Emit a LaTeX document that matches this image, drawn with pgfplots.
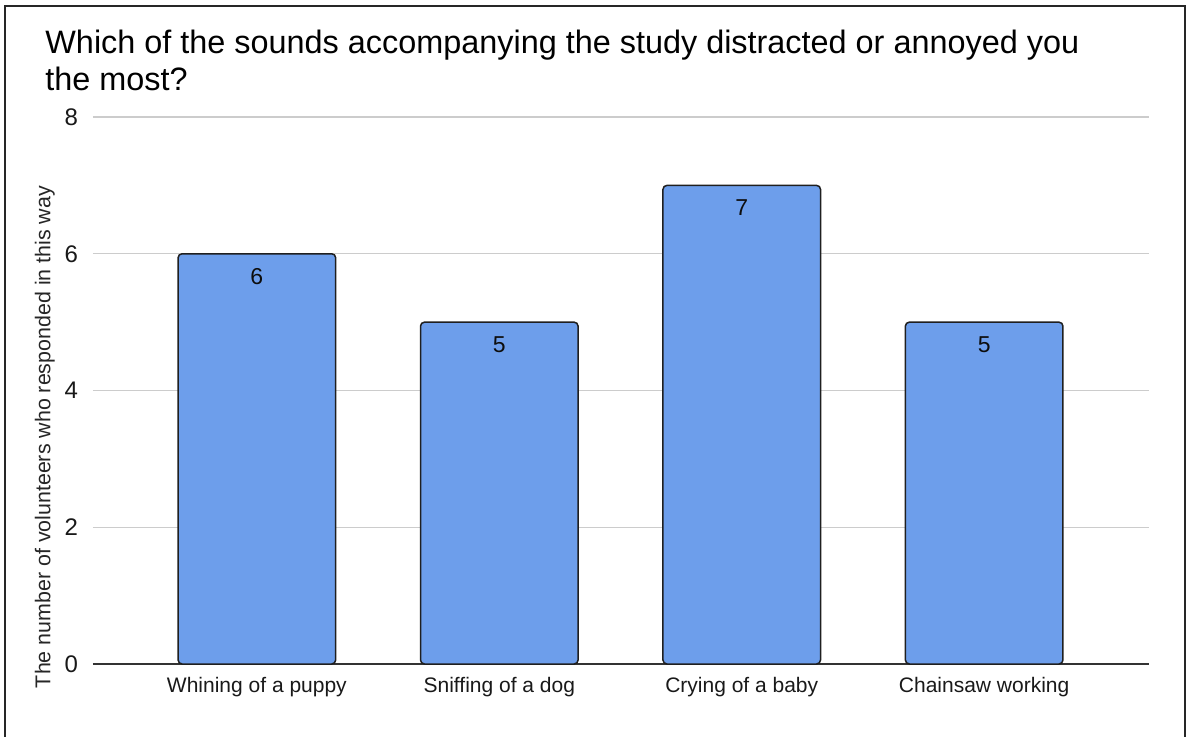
\documentclass[border=0pt]{standalone}
\usepackage{pgfplots}
\pgfplotsset{compat=1.18}
\usepackage{fontspec}
\setmainfont{Liberation Sans}
\definecolor{barblue}{HTML}{6D9EEB}
\definecolor{baredge}{HTML}{1F1F1F}
\definecolor{gridgray}{HTML}{CCCCCC}
\definecolor{axisgray}{HTML}{333333}
\begin{document}
\begin{tikzpicture}
\useasboundingbox (0,0) rectangle (596pt,368pt);
\draw[line width=1pt, color=black!85] (2.5pt,-10pt) -- (2.5pt,365pt) -- (592.5pt,365pt) -- (592.5pt,-10pt);
\node[anchor=base west, inner sep=0pt, font=\fontsize{16.2pt}{19pt}\selectfont] at (22.5pt,341.5pt) {Which of the sounds accompanying the study distracted or annoyed you};
\node[anchor=base west, inner sep=0pt, font=\fontsize{16.2pt}{19pt}\selectfont] at (22.5pt,323pt) {the most?};
\begin{axis}[
  at={(46.5pt,36pt)}, anchor=south west,
  scale only axis, width=528pt, height=273.5pt,
  xmin=-0.676, xmax=3.68, ymin=0, ymax=8,
  ytick={0,2,4,6,8},
  xtick={0,1,2,3},
  xticklabels={Whining of a puppy, Sniffing of a dog, Crying of a baby, Chainsaw working},
  axis x line=bottom, axis y line=left,
  x axis line style={-, color=axisgray, line width=0.8pt},
  y axis line style={draw=none},
  major tick length=0pt,
  ymajorgrids, grid style={color=gridgray, line width=0.6pt},
  /pgf/number format/assume math mode=true,
  yticklabel style={font=\fontsize{12pt}{14pt}\selectfont, xshift=-4pt, color=black!90},
  xticklabel style={font=\fontsize{10.5pt}{12pt}\selectfont, yshift=-3pt, color=black!90},
  ylabel={The number of volunteers who responded in this way},
  ylabel style={font=\fontsize{10.7pt}{12pt}\selectfont, at={(axis description cs:-0.0455,0.415)}, anchor=center, rotate=0, color=black!85},
  ybar, bar width=0.65,
  nodes near coords,
  nodes near coords style={anchor=north, yshift=-3.5pt, font=\fontsize{11.5pt}{13pt}\selectfont, color=black!95},
  clip=false,
]
\addplot[fill=barblue, draw=baredge, line width=0.75pt, rounded corners=2pt] coordinates {(0,6) (1,5) (2,7) (3,5)};
\end{axis}
\end{tikzpicture}
\end{document}
